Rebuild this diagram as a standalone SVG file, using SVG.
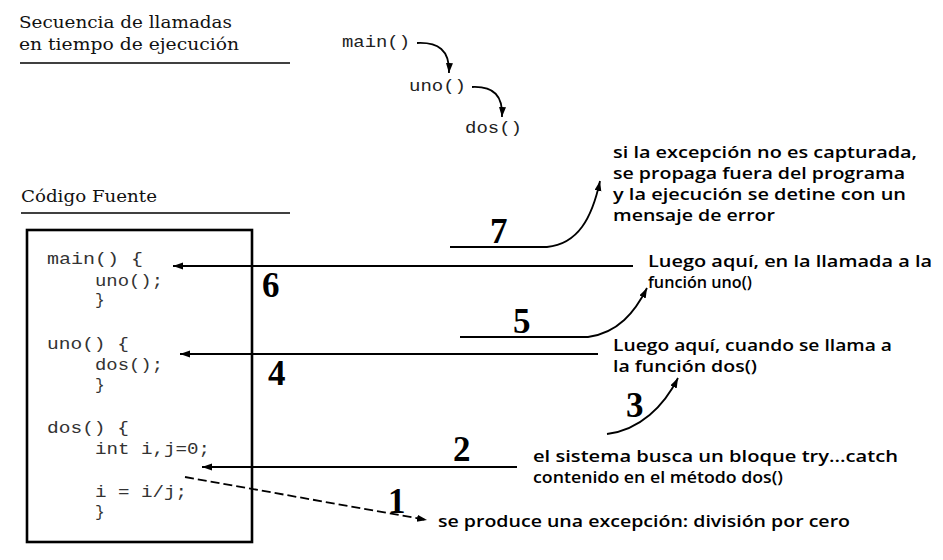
<svg xmlns="http://www.w3.org/2000/svg" width="943" height="560" viewBox="0 0 943 560">
<style>
.title{font-family:"DejaVu Serif","Liberation Serif",serif;font-size:17px;fill:#111}
.code{font-family:"Liberation Mono","Courier New",monospace;font-size:16px;fill:#333}
.seq{font-family:"Liberation Mono","Courier New",monospace;font-size:16px;fill:#222}
.note{font-family:"Comic Sans MS","Open Sans","DejaVu Sans",sans-serif;font-size:17px;font-weight:600;fill:#000}
.num{font-family:"Liberation Serif","Times New Roman",serif;font-size:35px;font-weight:bold;fill:#000}
.ln{fill:none;stroke:#000;stroke-width:1.8}
.rule{stroke:#000;stroke-width:1.5}
</style>
<defs>
<marker id="ah" markerUnits="userSpaceOnUse" markerWidth="11" markerHeight="8" refX="10" refY="3.5" orient="auto">
<path d="M0,0 L10,3.5 L0,7 z" fill="#000"/>
</marker>
</defs>
<rect width="943" height="560" fill="#fff"/>
<g id="titulo-secuencia">
<text class="title" x="19" y="28" textLength="213" lengthAdjust="spacingAndGlyphs">Secuencia de llamadas</text>
<text class="title" x="19" y="50" textLength="220" lengthAdjust="spacingAndGlyphs">en tiempo de ejecución</text>
<line class="rule" x1="20" y1="63" x2="290" y2="63"/>
</g>
<g id="titulo-codigo">
<text class="title" x="21" y="202" textLength="136" lengthAdjust="spacingAndGlyphs">Código Fuente</text>
<line class="rule" x1="21" y1="213" x2="290" y2="213"/>
</g>
<g id="seq-main"><text class="seq" x="342" y="47" textLength="68" lengthAdjust="spacingAndGlyphs">main()</text></g>
<g id="seq-uno"><text class="seq" x="409" y="91" textLength="57" lengthAdjust="spacingAndGlyphs">uno()</text></g>
<g id="seq-dos"><text class="seq" x="465" y="133" textLength="57" lengthAdjust="spacingAndGlyphs">dos()</text></g>
<g id="codigo">
<rect x="27" y="230" width="225" height="312" fill="none" stroke="#000" stroke-width="2.6"/>
<text class="code" x="47" y="264" textLength="96" lengthAdjust="spacingAndGlyphs">main() {</text>
<text class="code" x="95" y="286" textLength="68" lengthAdjust="spacingAndGlyphs">uno();</text>
<text class="code" x="95" y="305">}</text>
<text class="code" x="47" y="349" textLength="82" lengthAdjust="spacingAndGlyphs">uno() {</text>
<text class="code" x="95" y="370" textLength="68" lengthAdjust="spacingAndGlyphs">dos();</text>
<text class="code" x="95" y="390">}</text>
<text class="code" x="47" y="433" textLength="82" lengthAdjust="spacingAndGlyphs">dos() {</text>
<text class="code" x="95" y="454" textLength="115" lengthAdjust="spacingAndGlyphs">int i,j=0;</text>
<text class="code" x="95" y="497" textLength="92" lengthAdjust="spacingAndGlyphs">i = i/j;</text>
<text class="code" x="95" y="517">}</text>
</g>
<g id="nota-7">
<text class="note" x="613" y="158" textLength="304" lengthAdjust="spacingAndGlyphs">si la excepción no es capturada,</text>
<text class="note" x="613" y="179" textLength="292" lengthAdjust="spacingAndGlyphs">se propaga fuera del programa</text>
<text class="note" x="613" y="200" textLength="293" lengthAdjust="spacingAndGlyphs">y la ejecución se detine con un</text>
<text class="note" x="613" y="221" textLength="162" lengthAdjust="spacingAndGlyphs">mensaje de error</text>
</g>
<g id="nota-6">
<text class="note" x="648" y="267" textLength="284" lengthAdjust="spacingAndGlyphs">Luego aquí, en la llamada a la</text>
<text class="note" x="648" y="288" textLength="104" lengthAdjust="spacingAndGlyphs">función uno()</text>
</g>
<g id="nota-4">
<text class="note" x="613" y="351" textLength="279" lengthAdjust="spacingAndGlyphs">Luego aquí, cuando se llama a</text>
<text class="note" x="613" y="372" textLength="144" lengthAdjust="spacingAndGlyphs">la función dos()</text>
</g>
<g id="nota-2">
<text class="note" x="533" y="462" textLength="365" lengthAdjust="spacingAndGlyphs">el sistema busca un bloque try...catch</text>
<text class="note" x="533" y="483" textLength="250" lengthAdjust="spacingAndGlyphs">contenido en el método dos()</text>
</g>
<g id="nota-1">
<text class="note" x="438" y="527" textLength="412" lengthAdjust="spacingAndGlyphs">se produce una excepción: división por cero</text>
</g>
<g id="numeros">
<text class="num" x="490" y="243">7</text>
<text class="num" x="262" y="297">6</text>
<text class="num" x="513" y="333">5</text>
<text class="num" x="268" y="385">4</text>
<text class="num" x="626" y="417">3</text>
<text class="num" x="453" y="461">2</text>
<text class="num" x="388" y="513">1</text>
</g>
<g id="conectores">
<path class="ln" d="M417,43 C438,42 450,50 449,73" marker-end="url(#ah)"/>
<path class="ln" d="M472,87 C494,86 503,96 502,117" marker-end="url(#ah)"/>
<path class="ln" d="M450,247 H547 C578,244 592,218 600,181" marker-end="url(#ah)"/>
<path class="ln" d="M633,266 H173" marker-end="url(#ah)"/>
<path class="ln" d="M460,337 H588 C618,333 635,312 647,288" marker-end="url(#ah)"/>
<path class="ln" d="M598,354 H180" marker-end="url(#ah)"/>
<path class="ln" d="M607,434 C640,430 664,406 678,378" marker-end="url(#ah)"/>
<path class="ln" d="M517,467 H202" marker-end="url(#ah)"/>
<path class="ln" d="M185,477 L427,520" stroke-dasharray="9,4" marker-end="url(#ah)"/>
</g>
</svg>
